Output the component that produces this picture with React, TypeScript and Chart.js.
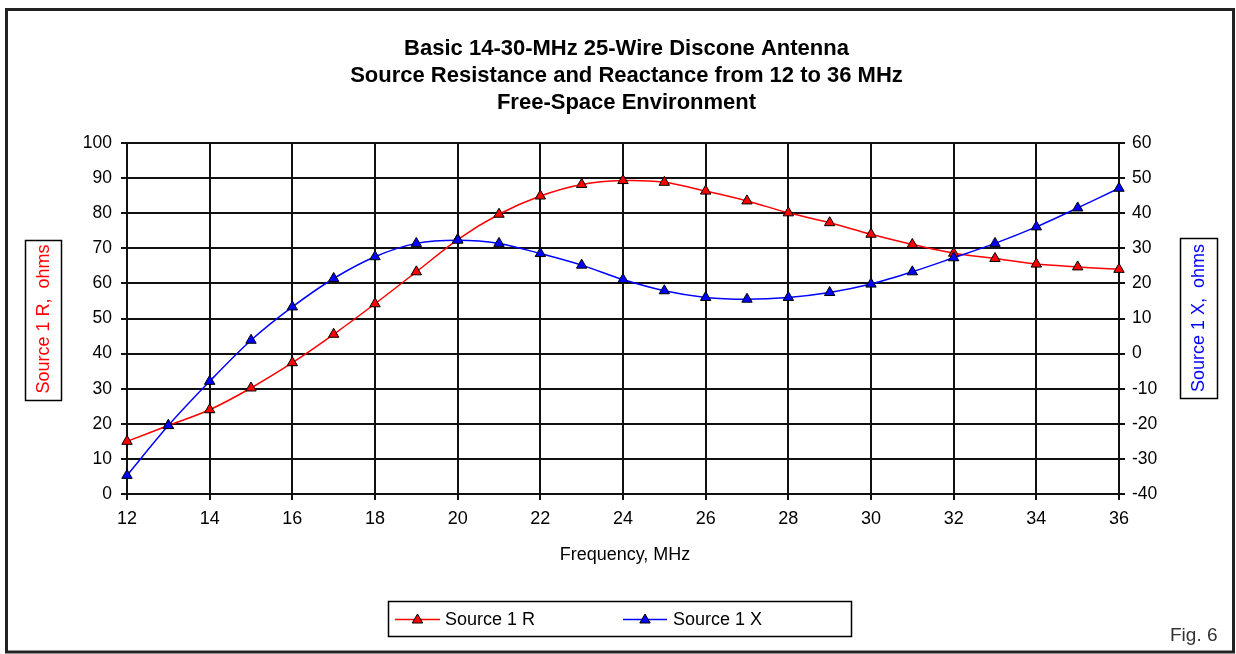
import React, { useEffect, useRef } from 'react';
import { Chart, registerables } from 'chart.js';

Chart.register(...registerables);

// ---- data ----
const frequencies = [12, 13, 14, 15, 16, 17, 18, 19, 20, 21, 22, 23, 24, 25, 26, 27, 28, 29, 30, 31, 32, 33, 34, 35, 36];
const resistance = [15.0, 19.5, 24.0, 30.2, 37.4, 45.5, 54.2, 63.3, 72.5, 79.7, 84.9, 88.2, 89.3, 88.8, 86.3, 83.5, 80.1, 77.3, 74.0, 71.1, 68.6, 67.1, 65.5, 64.7, 64.0];
const reactance = [-34.7, -20.5, -7.9, 3.8, 13.3, 21.4, 27.6, 31.4, 32.3, 31.4, 28.5, 25.2, 21.1, 17.9, 16.0, 15.5, 16.0, 17.4, 19.8, 23.3, 27.3, 31.4, 36.1, 41.5, 47.1];

const titleLines = [
  'Basic 14-30-MHz 25-Wire Discone Antenna',
  'Source Resistance and Reactance from 12 to 36 MHz',
  'Free-Space Environment',
];
const seriesNames = ['Source 1 R', 'Source 1 X'];
const seriesColors = ['#ff0000', '#0000ff'];
const xAxisTitle = 'Frequency, MHz';
const leftAxisTitle = 'Source 1 R,  ohms';
const rightAxisTitle = 'Source 1 X,  ohms';
const figLabel = 'Fig. 6';

const xRange = [12, 36];
const leftRange = [0, 100];
const rightRange = [-40, 60];

const FONT = '"Liberation Sans", Arial, sans-serif';
const MARKER_R = 6;

function drawTriangle(ctx: CanvasRenderingContext2D, x: number, y: number, r: number, fill: string) {
  ctx.beginPath();
  let rad = 0;
  for (let i = 0; i < 3; i++) {
    const px = x + Math.sin(rad) * r;
    const py = y - Math.cos(rad) * r;
    if (i === 0) ctx.moveTo(px, py);
    else ctx.lineTo(px, py);
    rad += (2 * Math.PI) / 3;
  }
  ctx.closePath();
  ctx.fillStyle = fill;
  ctx.fill();
  ctx.lineWidth = 1;
  ctx.strokeStyle = '#000';
  ctx.stroke();
}

const decorations = {
  id: 'decorations',
  afterDraw(chart: any) {
    const ctx: CanvasRenderingContext2D = chart.ctx;
    ctx.save();

    // outer frame
    ctx.strokeStyle = '#222';
    ctx.lineWidth = 3;
    ctx.strokeRect(6.5, 9.5, 1227, 642.5);

    // title
    ctx.fillStyle = '#000';
    ctx.font = `bold 22px ${FONT}`;
    ctx.textAlign = 'center';
    ctx.textBaseline = 'alphabetic';
    titleLines.forEach((t, i) => ctx.fillText(t, 626.5, 55 + i * 27));

    // x axis title
    ctx.font = `18px ${FONT}`;
    ctx.fillText(xAxisTitle, 625, 560);

    // left axis title box
    ctx.lineWidth = 1.5;
    ctx.strokeStyle = '#000';
    ctx.strokeRect(25.5, 240.5, 36, 160);
    ctx.save();
    ctx.translate(44, 319);
    ctx.rotate(-Math.PI / 2);
    ctx.fillStyle = seriesColors[0];
    ctx.textBaseline = 'middle';
    ctx.textAlign = 'center';
    ctx.fillText(leftAxisTitle, 0, 0);
    ctx.restore();

    // right axis title box
    ctx.strokeRect(1180.5, 238.5, 37, 160);
    ctx.save();
    ctx.translate(1199, 318);
    ctx.rotate(-Math.PI / 2);
    ctx.fillStyle = seriesColors[1];
    ctx.textBaseline = 'middle';
    ctx.textAlign = 'center';
    ctx.fillText(rightAxisTitle, 0, 0);
    ctx.restore();

    // legend
    ctx.strokeRect(388.5, 601.5, 463, 35);
    const legendItems = [
      { x0: 395, x1: 440, tx: 445 },
      { x0: 623, x1: 667, tx: 673 },
    ];
    legendItems.forEach((it, i) => {
      ctx.beginPath();
      ctx.strokeStyle = seriesColors[i];
      ctx.lineWidth = 1.5;
      ctx.moveTo(it.x0, 619.5);
      ctx.lineTo(it.x1, 619.5);
      ctx.stroke();
      drawTriangle(ctx, (it.x0 + it.x1) / 2, 620, MARKER_R, seriesColors[i]);
      ctx.fillStyle = '#000';
      ctx.font = `18px ${FONT}`;
      ctx.textAlign = 'left';
      ctx.textBaseline = 'alphabetic';
      ctx.fillText(seriesNames[i], it.tx, 625);
    });

    // figure label
    ctx.fillStyle = '#333';
    ctx.font = `19px ${FONT}`;
    ctx.textAlign = 'left';
    ctx.fillText(figLabel, 1170, 640.5);

    ctx.restore();
  },
};

export default function App() {
  const canvasRef = useRef<HTMLCanvasElement | null>(null);

  useEffect(() => {
    const canvas = canvasRef.current;
    if (!canvas) return;

    const rData = frequencies.map((f, i) => ({ x: f, y: resistance[i] }));
    const xData = frequencies.map((f, i) => ({ x: f, y: reactance[i] }));

    const chart = new Chart(canvas, {
      type: 'line',
      data: {
        datasets: [
          {
            label: seriesNames[0],
            data: rData,
            yAxisID: 'yR',
            borderColor: seriesColors[0],
            backgroundColor: seriesColors[0],
            borderWidth: 1.5,
            pointStyle: 'triangle',
            pointRadius: MARKER_R,
            pointBackgroundColor: seriesColors[0],
            pointBorderColor: '#000',
            pointBorderWidth: 1,
            tension: 0.3,
            fill: false,
            clip: false,
            order: 1,
          },
          {
            label: seriesNames[1],
            data: xData,
            yAxisID: 'yX',
            borderColor: seriesColors[1],
            backgroundColor: seriesColors[1],
            borderWidth: 1.5,
            pointStyle: 'triangle',
            pointRadius: MARKER_R,
            pointBackgroundColor: seriesColors[1],
            pointBorderColor: '#000',
            pointBorderWidth: 1,
            tension: 0.3,
            fill: false,
            clip: false,
            order: 0,
          },
        ],
      },
      options: {
        responsive: false,
        animation: false,
        events: [],
        layout: { padding: { left: 67, right: 57, top: 143, bottom: 110 } },
        plugins: {
          legend: { display: false },
          title: { display: false },
          tooltip: { enabled: false },
        },
        scales: {
          x: {
            type: 'linear',
            min: xRange[0],
            max: xRange[1],
            afterFit: (s: any) => { s.height = 50; },
            ticks: {
              stepSize: 2,
              color: '#000',
              font: { family: FONT, size: 18 },
              padding: 8,
              maxRotation: 0,
            },
            grid: { color: '#111', lineWidth: 2, tickLength: 6, drawTicks: true },
            border: { display: true, color: '#111', width: 2 },
          },
          yR: {
            type: 'linear',
            position: 'left',
            min: leftRange[0],
            max: leftRange[1],
            afterFit: (s: any) => { s.width = 60; },
            ticks: {
              stepSize: 10,
              color: '#000',
              font: { family: FONT, size: 17.5 },
              padding: 9,
            },
            grid: { color: '#111', lineWidth: 2, tickLength: 6 },
            border: { display: true, color: '#111', width: 2 },
          },
          yX: {
            type: 'linear',
            position: 'right',
            min: rightRange[0],
            max: rightRange[1],
            afterFit: (s: any) => { s.width = 60; },
            ticks: {
              stepSize: 10,
              color: '#000',
              font: { family: FONT, size: 17.5 },
              padding: 7,
            },
            grid: { color: '#111', lineWidth: 2, tickLength: 6, drawOnChartArea: false },
            border: { display: true, color: '#111', width: 2 },
          },
        },
      },
      plugins: [decorations],
    });

    return () => chart.destroy();
  }, []);

  return (
    <div style={{ position: 'fixed', left: 0, top: 0, width: 1236, height: 654, background: '#fff' }}>
      <canvas ref={canvasRef} width={1236} height={654} style={{ display: 'block' }} />
    </div>
  );
}
